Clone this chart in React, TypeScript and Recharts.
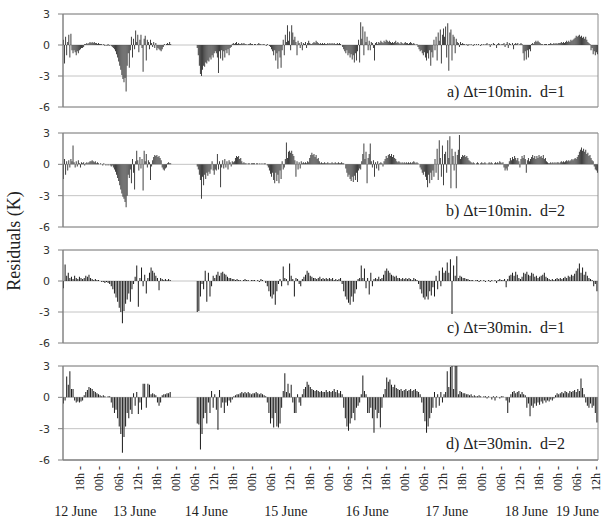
import React from 'react'
import { BarChart, Bar, XAxis, YAxis, CartesianGrid, ReferenceArea } from 'recharts'

// hour 0 = 12 June 12:00, hour 168 = 19 June 12:00
// panels a/b read at 20 min steps (18 values per 6 h), c/d at 30 min steps (12 per 6 h)
// null = no data (night of 13/14 June)

const residualsA = [
  0.5, -1.8, 0.8, -1.0, 0.3, 1.0, -1.2, 1.1, -0.5, -0.8, -0.5, -0.7, -1.0, -0.6, -0.8, -0.5, -0.4, -0.3,
  -0.3, -0.2, 0.1, 0.1, 0.2, 0.1, 0.2, 0.3, 0.2, 0.3, 0.2, 0.3, 0.2, 0.2, 0.1, 0.2, 0.1, 0.1,
  0.1, 0.0, 0.1, -0.1, 0.0, -0.1, 0.1, -0.1, 0.0, -0.1, -0.2, -0.3, -0.4, -0.6, -0.9, -1.2, -1.6, -2.0,
  -2.4, -2.9, -3.3, -3.6, -3.2, -4.5, -2.0, -0.8, -2.2, -0.5, 0.8, -1.2, 0.6, -0.4, 1.4, 0.3, 1.0, -0.7,
  0.5, 1.0, -0.3, -2.6, 0.6, 0.9, -1.5, 0.5, 0.3, -0.4, 0.5, 0.2, -0.2, 0.3, -0.3, 0.2, -0.5, -0.3,
  -0.4, -0.5, -0.6, -0.4, -0.2, 0.1, 0.0, 0.1, 0.2, 0.1, 0.3, 0.1, null, null, null, null, null, null,
  null, null, null, null, null, null, null, null, null, null, null, null, null, null, null, null, null, null,
  -0.3, -1.0, -2.0, -2.8, -3.0, -2.4, -2.0, -2.1, -1.7, -1.8, -1.5, -1.6, -1.2, -1.4, -1.0, -1.2, -0.8, -0.6,
  -0.8, -1.2, -2.7, -0.6, -1.3, -0.5, -1.5, -0.6, -1.2, -0.5, -0.8, -0.4, -1.0, -0.3, -0.2, 0.1, 0.2, 0.1,
  0.2, 0.3, 0.1, 0.2, 0.1, 0.1, 0.2, 0.1, 0.2, 0.1, 0.1, 0.0, 0.1, 0.1, 0.2, 0.1, 0.1, 0.0,
  0.1, 0.1, 0.0, 0.1, 0.2, 0.1, 0.1, 0.0, 0.1, 0.1, 0.0, -0.1, 0.1, 0.0, -0.1, -0.2, -0.4, -0.6,
  -1.0, -0.5, -1.5, -0.8, -2.3, -0.6, -1.2, -2.2, -0.5, 0.5, -1.0, 1.0, 0.3, 1.9, 0.4, 1.3, -0.5, 1.9,
  1.2, 0.5, 0.8, 0.3, -1.0, 0.4, 0.2, -0.3, 0.3, -0.5, 0.2, 0.1, 0.3, -0.3, 0.2, 0.4, 0.2, 0.1,
  0.1, 0.2, 0.3, 0.2, 0.4, 0.3, 0.2, 0.1, 0.2, 0.1, 0.2, 0.1, 0.2, 0.1, 0.1, 0.2, 0.1, 0.2,
  0.1, 0.2, 0.1, 0.2, 0.1, 0.1, 0.2, 0.1, 0.2, 0.1, 0.0, -0.2, -0.4, -0.6, -0.8, -0.5, -1.0, -0.8,
  -1.2, -0.9, -1.4, -1.0, -1.7, -0.8, -1.5, -0.6, 0.5, -1.7, 2.2, 0.6, 1.8, -1.0, 1.3, 0.3, 0.8, -0.5,
  0.4, -0.5, 0.3, 0.2, -0.3, -1.5, 0.2, 0.3, 0.1, 0.3, 0.2, 0.4, 0.3, 0.2, 0.4, 0.3, 0.5, 0.4,
  0.3, 0.4, 0.3, 0.2, 0.3, 0.2, 0.3, 0.4, 0.2, 0.3, 0.2, 0.1, 0.3, 0.2, 0.1, 0.2, 0.3, 0.2,
  0.2, 0.1, 0.2, 0.3, 0.2, 0.1, 0.2, 0.1, 0.0, 0.1, -0.2, -0.4, -0.6, -0.5, -0.8, -1.0, -0.7, -1.2,
  -1.5, -0.8, -1.3, -0.5, -2.0, -0.7, -1.2, 0.5, -0.5, 0.8, -1.5, 1.2, 0.4, 1.5, -1.8, 1.0, 1.6, 0.8,
  1.8, -1.2, 2.1, -2.5, 1.2, 1.5, -1.5, 1.0, 0.8, -0.8, 0.6, 0.3, 0.2, -0.2, 0.3, 0.1, 0.2, 0.1,
  0.1, 0.0, 0.1, -0.1, 0.1, 0.0, 0.1, 0.0, -0.1, 0.1, 0.0, 0.1, 0.0, 0.1, 0.0, -0.1, 0.1, 0.0,
  0.1, 0.0, 0.1, 0.2, 0.0, 0.1, -0.2, 0.1, 0.0, 0.2, 0.1, 0.0, -0.3, 0.1, 0.2, 0.1, 0.0, 0.1,
  0.1, 0.2, -0.2, 0.1, 0.3, -0.3, 0.2, 0.1, 0.0, 0.2, -0.4, 0.1, 0.2, 0.1, 0.2, 0.0, 0.1, 0.2,
  0.1, -0.8, -1.5, -0.6, -1.4, -0.5, -1.2, -0.4, -0.6, 0.1, 0.2, 0.1, 0.3, 0.4, 0.3, 0.4, 0.3, 0.2,
  0.1, 0.1, 0.0, 0.1, 0.1, 0.1, 0.0, 0.1, 0.1, 0.2, 0.1, 0.1, 0.2, 0.1, 0.2, 0.1, 0.2, 0.2,
  0.2, 0.3, 0.2, 0.3, 0.2, 0.3, 0.4, 0.3, 0.4, 0.3, 0.5, 0.4, 0.5, 0.6, 0.7, 0.9, 0.8, 0.9,
  1.0, 0.8, 0.9, 0.7, 0.8, 0.6, 0.8, 0.5, 0.3, 0.2, 0.1, -0.5, -0.3, -0.9, -0.6, -1.0, -0.7, -0.9,
]

const residualsB = [
  -1.4, 0.5, -1.0, 0.3, -0.6, 0.4, -0.3, 0.5, 0.3, 1.8, 0.2, -0.3, 0.3, -0.2, 0.4, 0.1, -0.3, 0.2,
  0.1, 0.2, -0.1, 0.1, 0.2, 0.1, 0.2, 0.3, 0.3, 0.4, 0.3, 0.2, 0.3, 0.1, 0.2, 0.1, 0.0, 0.1,
  0.0, -0.1, 0.1, 0.0, -0.1, 0.0, -0.1, 0.0, -0.1, -0.2, -0.1, -0.3, -0.5, -0.7, -1.0, -1.3, -1.6, -2.0,
  -2.4, -2.8, -3.1, -3.3, -3.6, -4.1, -3.0, -1.0, -1.3, -0.5, -1.8, 0.5, -0.8, -2.4, 0.3, 1.3, 0.4, -0.6,
  0.7, -0.4, 0.5, -2.5, 1.3, 0.3, 1.0, -0.3, 0.4, 0.2, -1.5, -0.2, 0.4, 0.7, 0.9, 0.8, 0.9, 0.7,
  0.8, 0.6, 0.4, -0.3, -0.5, -0.6, -0.4, -0.3, 0.1, 0.2, 0.1, 0.1, null, null, null, null, null, null,
  null, null, null, null, null, null, null, null, null, null, null, null, null, null, null, null, null, null,
  -0.2, -0.5, -1.0, -1.5, -3.3, -1.2, -2.0, -1.0, -1.4, -0.8, -1.1, -0.7, -0.9, -0.5, 0.3, -0.6, -1.0, -0.5,
  -0.6, 1.0, -0.5, 0.3, -2.2, -0.3, 0.4, -0.4, 0.5, -0.3, 0.3, -0.5, 0.4, 0.2, -0.2, 0.3, 0.2, 0.3,
  0.6, 0.8, 0.7, 0.8, 0.5, 0.6, 0.3, 0.1, 0.2, 0.1, 0.1, 0.0, 0.1, 0.1, 0.0, 0.1, 0.1, 0.1,
  0.1, 0.0, 0.1, 0.1, 0.0, 0.1, 0.0, 0.1, 0.0, 0.1, 0.1, 0.0, -0.1, -0.3, -0.6, -0.9, -1.2, -0.8,
  -1.5, -1.8, -0.8, -1.6, -1.0, -1.8, -0.6, -1.4, 0.3, -0.5, -0.3, 0.5, 2.1, 0.6, 1.2, 1.3, 1.1, 1.3,
  1.0, 0.8, 0.4, -1.2, 0.3, -0.5, 0.2, -0.4, 0.3, 0.1, 0.2, 0.1, 0.2, 0.1, 0.3, 0.2, 0.6, 0.9,
  1.1, 0.9, 1.0, 0.7, 0.9, 0.5, 0.6, 0.3, 0.1, 0.2, 0.1, 0.1, 0.2, 0.1, 0.1, 0.2, 0.1, 0.1,
  0.1, 0.2, 0.1, 0.1, 0.2, 0.1, 0.1, 0.2, 0.1, 0.1, 0.2, 0.1, 0.1, 0.0, -0.4, -0.8, -1.2, -1.0,
  -1.4, -1.6, -1.2, -1.7, -1.1, -1.5, -0.8, -1.7, -0.6, -0.4, -0.5, 0.3, 1.0, 2.0, 0.5, 1.2, -1.8, 0.6,
  1.0, 2.0, 0.3, -0.3, 0.4, -1.2, 0.2, -0.4, 0.3, -0.6, 0.1, 0.2, 0.1, -0.2, 0.3, 0.5, 0.8, 0.6,
  0.9, 1.0, 0.8, 1.0, 0.7, 0.9, 0.6, 0.5, 0.3, 0.2, 0.3, 0.2, 0.1, 0.2, 0.1, 0.2, 0.1, 0.2,
  0.1, 0.2, 0.1, 0.2, 0.1, 0.2, 0.3, 0.2, 0.1, 0.2, 0.1, 0.0, -0.3, -0.5, -0.8, -1.0, -0.7, -1.2,
  -1.5, -2.2, -1.0, -1.8, -0.8, -1.5, -0.6, -1.2, 0.5, -0.8, 1.5, -1.5, 2.3, 0.6, -1.2, 1.8, -2.0, 1.0,
  1.2, -0.8, 2.3, 0.6, 2.7, -2.3, 1.5, 0.8, -0.6, 1.2, -2.3, 0.9, 1.4, 2.8, 0.5, 0.7, 0.9, 0.8,
  0.9, 0.7, 0.8, 0.6, 0.4, 0.3, 0.2, 0.1, 0.2, 0.1, 0.0, 0.1, 0.2, 0.1, 0.0, 0.1, 0.2, 0.1,
  0.1, 0.2, 0.1, 0.0, 0.1, 0.2, 0.1, 0.2, 0.1, 0.0, 0.1, 0.2, 0.1, 0.2, 0.1, 0.3, 0.2, 0.1,
  0.2, -0.3, -0.6, -0.4, -0.6, -0.2, 0.3, 0.6, 0.4, 0.7, 0.5, 0.8, 0.6, 0.4, 0.6, 0.3, -0.3, 0.5,
  0.8, 0.6, 0.9, 0.5, -0.8, 0.4, 0.6, 0.3, 0.5, 0.7, 0.9, 0.6, 0.8, 0.5, 0.8, 0.6, 0.9, 0.7,
  0.8, 0.6, 0.9, 0.5, 0.6, 0.3, 0.2, 0.1, 0.1, 0.2, 0.1, 0.2, 0.1, 0.2, 0.1, 0.2, 0.2, 0.1,
  0.2, 0.3, 0.2, 0.3, 0.2, 0.3, 0.4, 0.3, 0.4, 0.3, 0.4, 0.5, 0.4, 0.5, 0.6, 0.5, 0.7, 0.9,
  1.2, 1.4, 1.6, 1.3, 1.5, 1.2, 1.4, 1.0, 1.1, 0.8, 0.9, 0.6, 0.4, 0.3, -0.2, -0.5, -0.6, -0.8,
]

const residualsC = [
  -0.7, 1.6, 0.5, 0.8, 0.3, 0.4, 0.2, 0.5, 0.3, 0.2, 0.4, 0.3,
  0.2, 0.3, 0.5, 0.4, 0.6, 0.3, 0.2, 0.1, 0.2, 0.1, 0.1, 0.0,
  -0.1, -0.1, -0.2, -0.1, -0.2, -0.3, -0.5, -0.8, -1.2, -1.6, -2.0, -2.6,
  -3.0, -4.1, -2.9, -2.2, -1.8, -1.2, -2.0, -0.8, -0.3, 0.4, 1.5, -2.5,
  0.3, 1.3, -0.5, 0.6, -1.2, 0.3, 0.8, 1.3, 1.0, 0.8, 0.5, 0.3,
  -0.9, 0.3, 0.2, 0.1, 0.2, 0.1, 0.2, 0.1, null, null, null, null,
  null, null, null, null, null, null, null, null, null, null, null, null,
  -3.0, -2.9, -1.5, -0.3, -0.8, 1.0, -2.0, 0.8, -1.5, -0.5, 0.5, 0.3,
  0.6, 0.9, 0.5, 0.8, 0.9, 0.7, 0.6, 0.4, 0.3, 0.3, 0.2, 0.2,
  0.1, 0.2, 0.1, 0.1, 0.0, 0.1, 0.2, 0.1, 0.1, 0.0, 0.1, 0.1,
  0.1, 0.0, 0.1, -0.1, 0.2, 0.1, 0.0, -0.2, -0.5, -1.0, -1.5, -1.7,
  -1.3, -2.3, -1.0, -0.3, 0.2, -0.5, 1.4, 0.3, 0.2, -0.4, 1.7, 0.5,
  0.2, -1.5, 0.3, 0.2, -0.3, -0.5, 0.2, 0.4, 0.6, 1.0, 0.8, 0.5,
  0.4, 0.3, 0.3, 0.2, 0.3, 0.4, 0.2, 0.3, 0.2, 0.3, 0.2, 0.3,
  0.2, 0.3, 0.1, 0.2, 0.1, 0.2, 0.3, -0.3, -1.0, -1.5, -1.8, -2.1,
  -2.3, -1.5, -2.0, -1.2, -0.8, 0.2, 0.3, 1.5, 0.3, 1.2, -0.7, 0.3,
  -1.3, 0.8, -0.5, 0.2, 0.3, 0.2, 0.4, 0.2, 0.3, 0.6, 1.0, 1.2,
  1.0, 0.8, 0.6, 0.5, 0.4, 0.5, 0.3, 0.3, 0.2, 0.3, 0.2, 0.3,
  0.2, 0.3, 0.2, 0.1, 0.3, 0.2, 0.1, -0.3, -0.8, -1.2, -1.6, -1.8,
  -1.5, -1.8, -1.0, -1.4, -0.6, -1.5, 0.5, -0.8, 1.0, -0.5, 1.3, 0.8,
  1.0, 1.8, 0.8, 2.1, -3.2, 1.5, 0.5, 2.4, 0.3, 0.5, 0.4, 0.3,
  0.3, 0.2, 0.2, 0.1, 0.1, 0.1, 0.0, 0.1, 0.1, -0.1, 0.1, 0.0,
  0.1, -0.1, 0.0, 0.1, -0.1, 0.1, 0.0, 0.1, -0.2, 0.1, 0.2, 0.1,
  0.1, 0.2, -0.6, 0.2, 0.5, 0.6, 0.8, 0.5, 0.9, 0.6, 0.3, 0.2,
  0.4, 0.8, 0.7, 0.9, 0.6, 0.5, 0.8, 0.7, 0.4, 0.5, 0.3, 0.4,
  0.5, 0.6, 0.8, 0.4, 0.3, 0.2, 0.1, 0.2, 0.1, 0.2, 0.3, 0.2,
  0.3, 0.2, 0.3, 0.4, 0.3, 0.5, 0.4, 0.6, 0.5, 0.7, 1.0, 1.2,
  1.7, 0.8, 1.3, 0.6, 0.9, 0.5, 0.3, 0.2, 0.1, -0.5, -0.3, -1.0,
]

const residualsD = [
  -0.6, -0.3, 2.0, 1.2, 2.5, 0.8, 0.8, -0.3, -0.5, -0.4, -0.5, -0.4,
  -0.3, 0.2, 0.5, 0.7, 1.0, 0.9, 0.8, 0.6, 0.5, 0.4, 0.3, 0.2,
  0.1, 0.2, 0.1, 0.0, 0.1, 0.1, -0.5, -1.0, -1.5, -1.2, -2.0, -2.8,
  -3.5, -5.3, -3.8, -2.8, -1.5, -2.0, -1.2, -1.6, 0.4, -0.8, 0.5, -1.6,
  -0.5, -1.2, 1.3, 1.3, -1.0, 1.3, 1.2, 0.3, 0.4, 0.3, 0.2, -0.5,
  -0.8, -0.5, 0.2, 0.3, 0.3, 0.4, 0.4, 0.5, null, null, null, null,
  null, null, null, null, null, null, null, null, null, null, null, null,
  -2.5, -2.6, -5.0, -3.5, -2.0, -1.5, -2.5, -0.5, -1.5, 0.6, -1.0, 0.3,
  -1.2, -3.1, 0.7, -1.0, -0.5, -1.5, -0.5, -0.8, -0.3, -0.5, -0.2, 0.1,
  0.2, 0.3, 0.3, 0.4, 0.5, 0.4, 0.5, 0.4, 0.5, 0.4, 0.3, 0.4,
  0.4, 0.5, 0.4, 0.3, 0.4, 0.3, 0.2, 0.1, -0.5, -1.5, -2.5, -2.0,
  -2.9, -1.5, -2.8, -2.9, -2.5, -1.0, 0.6, 2.3, 0.5, 1.3, 0.4, 1.2,
  -0.5, -1.5, -1.5, 0.3, -0.5, -0.8, 0.3, 0.8, 1.0, 1.5, 1.2, 1.0,
  0.8, 0.7, 0.6, 0.7, 0.6, 0.5, 0.6, 0.5, 0.5, 0.7, 0.5, 0.6,
  0.5, 0.6, 0.8, 0.5, 0.7, 0.4, 0.6, 0.3, -1.0, -2.0, -2.8, -3.2,
  -2.5, -2.0, -1.5, -2.2, -1.0, -0.8, -0.5, 0.3, 2.1, 0.6, 0.3, -1.5,
  -1.5, -1.0, -2.0, -3.4, -1.2, -2.0, -1.5, -2.9, -1.0, 0.3, 0.8, 1.9,
  1.5, 1.7, 1.2, 1.0, 1.2, 0.9, 0.8, 0.7, 0.8, 0.6, 0.7, 0.8,
  0.6, 0.7, 0.8, 0.6, 0.7, 0.8, 0.6, 0.5, 0.3, -0.5, -1.5, -2.3,
  -3.4, -2.8, -2.0, -1.5, -1.0, 0.5, -1.0, 0.3, -0.8, 0.5, -0.5, 0.3,
  0.5, 2.5, 1.0, 2.9, 3.0, 0.8, 3.0, 3.0, 0.3, 0.6, 0.5, 0.4,
  0.4, 0.3, 0.3, 0.2, 0.3, 0.1, 0.2, 0.1, 0.1, 0.2, 0.1, 0.0,
  0.1, 0.1, -0.1, 0.1, 0.0, -0.2, 0.1, -0.3, 0.1, 0.0, -0.1, 0.1,
  0.1, 0.0, -0.3, -1.5, -0.5, 0.3, 0.5, 0.6, 0.4, 0.5, 0.6, 0.3,
  0.5, 0.3, 0.2, -1.0, -0.6, -1.8, -0.8, -1.0, -0.6, -0.8, -0.5, -0.7,
  -0.4, -0.6, -0.3, -0.5, -0.3, -0.4, -0.2, -0.3, -0.1, 0.2, 0.4, 0.3,
  0.4, 0.5, 0.4, 0.6, 0.5, 0.4, 0.6, 0.5, 0.6, 0.7, 0.5, 0.8,
  0.6, 1.8, 0.9, 0.3, -0.5, -0.8, -1.0, -0.6, -1.0, -0.8, -1.5, -2.4,
]

const panelLabels = ['a) Δt=10min.  d=1', 'b) Δt=10min.  d=2', 'c) Δt=30min.  d=1', 'd) Δt=30min.  d=2']
const yTicks = [-6, -3, 0, 3]
const hourTicks = [6, 12, 18, 24, 30, 36, 42, 48, 54, 60, 66, 72, 78, 84, 90, 96, 102, 108, 114, 120, 126, 132, 138, 144, 150, 156, 162, 168]
const dateLabels = ['12 June', '13 June', '14 June', '15 June', '16 June', '17 June', '18 June', '19 June']
const dateLabelHours = [4, 22.5, 45, 70, 95.5, 120.5, 145.5, 161.5]

const serif = '"Liberation Serif", "Times New Roman", serif'

function toRows(vals: (number | null)[], stepH: number) {
  return vals
    .map((v, i) => ({ h: (i + 0.5) * stepH, v }))
    .filter((r) => r.v !== null)
}

const hourText = (h: number) => String((12 + h) % 24).padStart(2, '0') + 'h'

const HourTick = ({ x, y, payload }: any) => {
  const ty = y + 6
  const tx = x - 2
  return (
    <text
      x={tx}
      y={ty}
      transform={`rotate(-90 ${tx} ${ty})`}
      textAnchor="end"
      dy="0.35em"
      fontFamily={serif}
      fontSize={12}
      fill="#222"
    >
      {hourText(payload.value)} -
    </text>
  )
}

const DateTick = ({ x, y, index }: any) => (
  <text x={x} y={y + 16} textAnchor="middle" fontFamily={serif} fontSize={14} fill="#222">
    {dateLabels[index]}
  </text>
)

interface PanelProps {
  rows: { h: number; v: number | null }[]
  top: number
  plotH: number
  barSize: number
  fill: string
  last?: boolean
}

function Panel({ rows, top, plotH, barSize, fill, last = false }: PanelProps) {
  const mt = 8
  const bottom = last ? 64 : 10
  return (
    <div style={{ position: 'absolute', left: 0, top: top - mt }}>
      <BarChart
        width={602}
        height={mt + plotH + bottom}
        data={rows}
        margin={{ top: mt, right: 4, left: 0, bottom: last ? 0 : bottom }}
        barGap={0}
      >
        <CartesianGrid vertical={false} stroke="#c4c4c4" />
        <XAxis
          dataKey="h"
          type="number"
          domain={[0, 168]}
          ticks={hourTicks}
          interval={0}
          allowDataOverflow
          hide={!last}
          height={40}
          axisLine={{ stroke: '#808080' }}
          tickLine={false}
          tickSize={0}
          tickMargin={0}
          tick={<HourTick />}
        />
        {last && (
          <XAxis
            xAxisId="dates"
            dataKey="h"
            type="number"
            domain={[0, 168]}
            ticks={dateLabelHours}
            interval={0}
            allowDataOverflow
            height={24}
            axisLine={false}
            tickLine={false}
            tickSize={0}
            tickMargin={0}
            tick={<DateTick />}
          />
        )}
        <YAxis
          domain={[-6, 3]}
          ticks={yTicks}
          interval={0}
          allowDataOverflow
          width={63}
          tickSize={5}
          tickMargin={8}
          axisLine={{ stroke: '#808080' }}
          tickLine={{ stroke: '#808080' }}
          tick={{ fontSize: 11, fontFamily: '"DejaVu Sans", sans-serif', fill: '#333' }}
        />
        <ReferenceArea x1={0} x2={168} y1={-6} y2={3} fill="none" stroke="#8c8c8c" ifOverflow="visible" />
        <Bar dataKey="v" fill={fill} barSize={barSize} isAnimationActive={false} />
      </BarChart>
    </div>
  )
}

const panelTops = [14, 133, 250, 366]

export default function App() {
  const panels = [
    { rows: toRows(residualsA, 1 / 3), plotH: 93, barSize: 1.25, fill: '#383838' },
    { rows: toRows(residualsB, 1 / 3), plotH: 94, barSize: 1.25, fill: '#383838' },
    { rows: toRows(residualsC, 0.5), plotH: 93, barSize: 1, fill: '#1a1a1a' },
    { rows: toRows(residualsD, 0.5), plotH: 94, barSize: 1, fill: '#1a1a1a' },
  ]
  return (
    <div style={{ position: 'absolute', left: 0, top: 0, width: 602, height: 522, background: '#fff', overflow: 'hidden' }}>
      {panels.map((p, i) => (
        <Panel key={i} rows={p.rows} top={panelTops[i]} plotH={p.plotH} barSize={p.barSize} fill={p.fill} last={i === 3} />
      ))}
      <svg width={602} height={522} style={{ position: 'absolute', left: 0, top: 0, pointerEvents: 'none' }}>
        <text
          x={20}
          y={241}
          transform="rotate(-90 20 241)"
          textAnchor="middle"
          fontFamily={serif}
          fontSize={18}
          fill="#222"
        >
          Residuals (K)
        </text>
        {panelLabels.map((t, i) => (
          <text
            key={t}
            x={565}
            y={panelTops[i] + 83}
            textAnchor="end"
            fontFamily={serif}
            fontSize={16}
            fill="#222"
            style={{ whiteSpace: 'pre' }}
          >
            {t}
          </text>
        ))}
      </svg>
    </div>
  )
}
